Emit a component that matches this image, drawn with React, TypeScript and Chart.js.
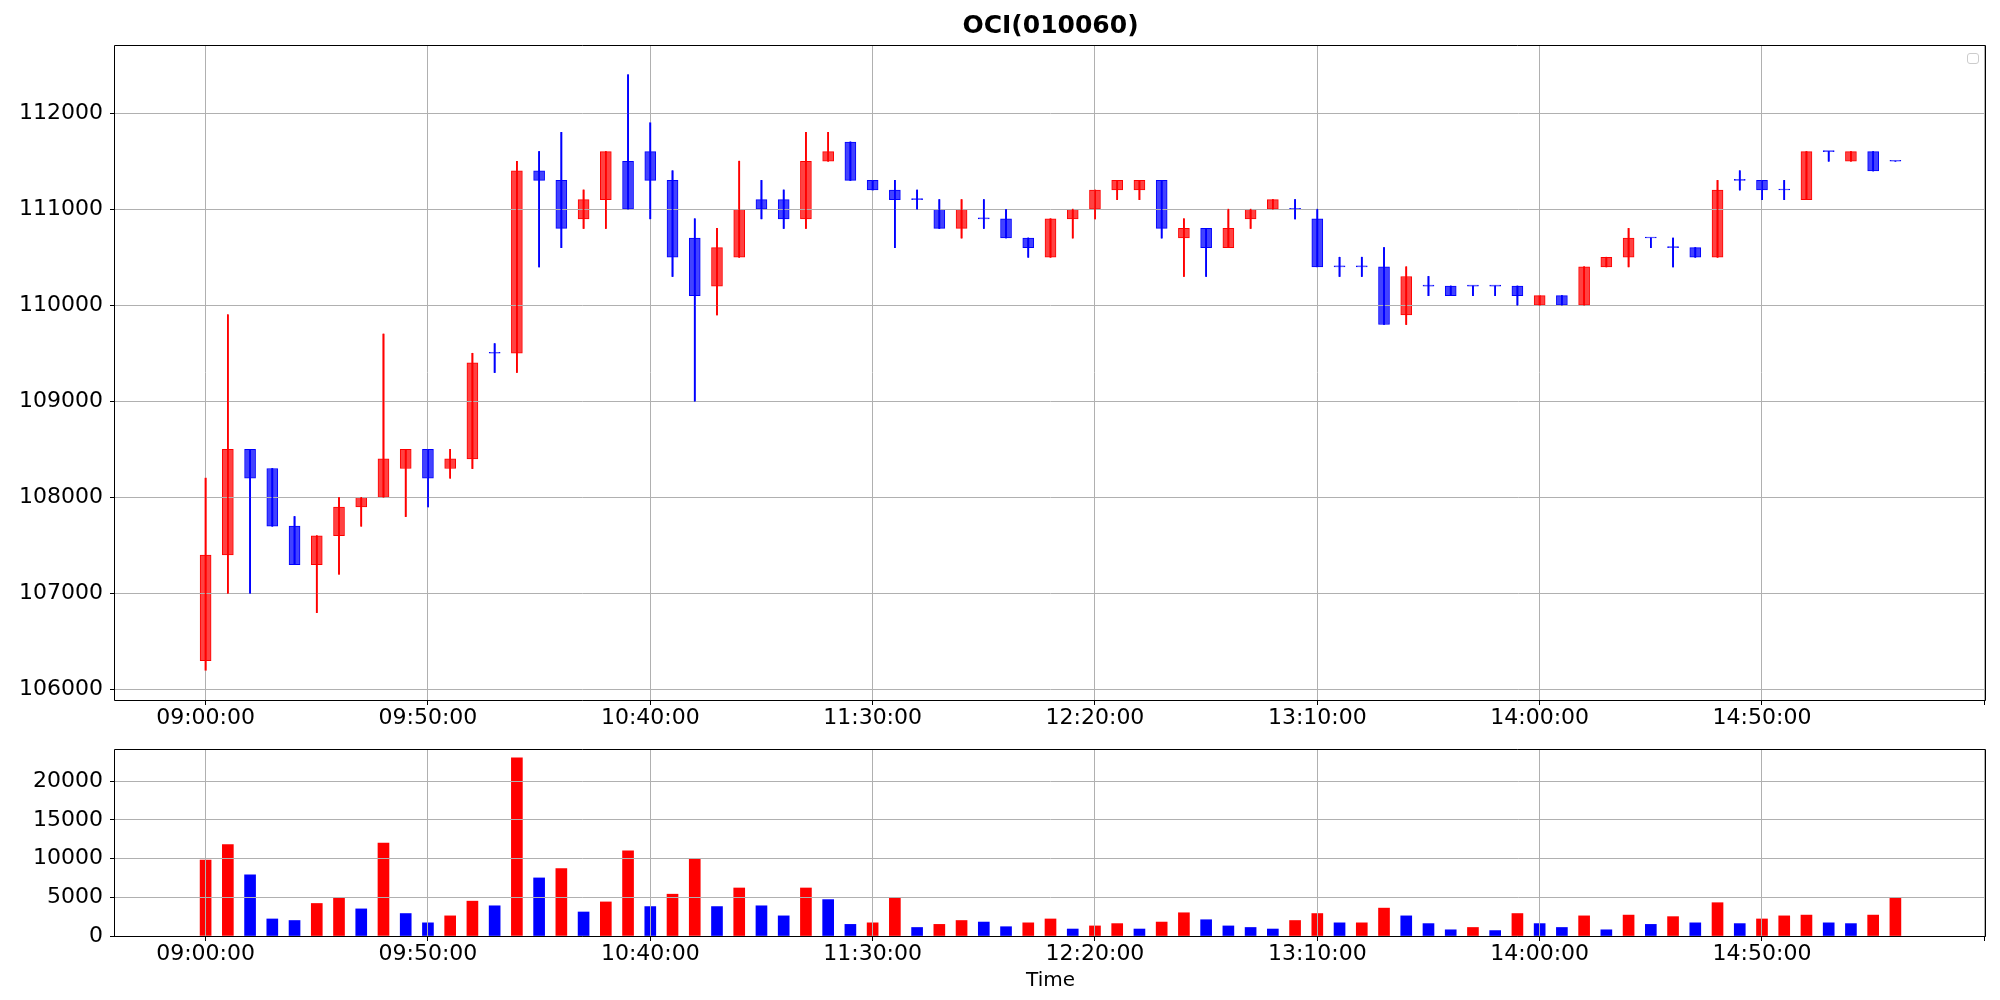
import React, { useEffect, useRef } from "react";
import { Chart, registerables } from "chart.js";
Chart.register(...registerables);

const title = "OCI(010060)";
const xAxisTitle = "Time";

const times = [
  "09:00:00", "09:05:00", "09:10:00", "09:15:00", "09:20:00", "09:25:00", "09:30:00", "09:35:00", "09:40:00", "09:45:00",
  "09:50:00", "09:55:00", "10:00:00", "10:05:00", "10:10:00", "10:15:00", "10:20:00", "10:25:00", "10:30:00", "10:35:00",
  "10:40:00", "10:45:00", "10:50:00", "10:55:00", "11:00:00", "11:05:00", "11:10:00", "11:15:00", "11:20:00", "11:25:00",
  "11:30:00", "11:35:00", "11:40:00", "11:45:00", "11:50:00", "11:55:00", "12:00:00", "12:05:00", "12:10:00", "12:15:00",
  "12:20:00", "12:25:00", "12:30:00", "12:35:00", "12:40:00", "12:45:00", "12:50:00", "12:55:00", "13:00:00", "13:05:00",
  "13:10:00", "13:15:00", "13:20:00", "13:25:00", "13:30:00", "13:35:00", "13:40:00", "13:45:00", "13:50:00", "13:55:00",
  "14:00:00", "14:05:00", "14:10:00", "14:15:00", "14:20:00", "14:25:00", "14:30:00", "14:35:00", "14:40:00", "14:45:00",
  "14:50:00", "14:55:00", "15:00:00", "15:05:00", "15:10:00", "15:15:00", "15:20:00",
];

const opens = [
  106300, 107400, 108500, 108300, 107700, 107300, 107600, 107900, 108000, 108300,
  108500, 108300, 108400, 109500, 109500, 111400, 111300, 110900, 111100, 111500,
  111600, 111300, 110700, 110200, 110500, 111100, 111100, 110900, 111500, 111700,
  111300, 111200, 111100, 111000, 110800, 110900, 110900, 110700, 110500, 110900,
  111000, 111200, 111200, 111300, 110700, 110800, 110600, 110900, 111000, 111000,
  110900, 110400, 110400, 110400, 109900, 110200, 110200, 110200, 110200, 110200,
  110000, 110100, 110000, 110400, 110500, 110700, 110600, 110600, 110500, 111300,
  111300, 111200, 111100, 111600, 111500, 111600, 111500,
];
const highs = [
  108200, 109900, 108500, 108300, 107800, 107600, 108000, 108000, 109700, 108500,
  108500, 108500, 109500, 109600, 111500, 111600, 111800, 111200, 111600, 112400,
  111900, 111400, 110900, 110800, 111500, 111300, 111200, 111800, 111800, 111700,
  111300, 111300, 111200, 111100, 111100, 111100, 111000, 110700, 110900, 111000,
  111200, 111300, 111300, 111300, 110900, 110800, 111000, 111000, 111100, 111100,
  111000, 110500, 110500, 110600, 110400, 110300, 110200, 110200, 110200, 110200,
  110100, 110100, 110400, 110500, 110800, 110700, 110700, 110600, 111300, 111400,
  111300, 111300, 111600, 111600, 111600, 111600, 111500,
];
const lows = [
  106200, 107000, 107000, 107700, 107300, 106800, 107200, 107700, 108000, 107800,
  107900, 108200, 108300, 109300, 109300, 110400, 110600, 110800, 110800, 111000,
  110900, 110300, 109000, 109900, 110500, 110900, 110800, 110800, 111500, 111300,
  111200, 110600, 111000, 110800, 110700, 110800, 110700, 110500, 110500, 110700,
  110900, 111100, 111100, 110700, 110300, 110300, 110600, 110800, 111000, 110900,
  110400, 110300, 110300, 109800, 109800, 110100, 110100, 110100, 110100, 110000,
  110000, 110000, 110000, 110400, 110400, 110600, 110400, 110500, 110500, 111200,
  111100, 111100, 111100, 111500, 111500, 111400, 111500,
];
const closes = [
  107400, 108500, 108200, 107700, 107300, 107600, 107900, 108000, 108400, 108500,
  108200, 108400, 109400, 109500, 111400, 111300, 110800, 111100, 111600, 111000,
  111300, 110500, 110100, 110600, 111000, 111000, 110900, 111500, 111600, 111300,
  111200, 111100, 111100, 110800, 111000, 110900, 110700, 110600, 110900, 111000,
  111200, 111300, 111300, 110800, 110800, 110600, 110800, 111000, 111100, 111000,
  110400, 110400, 110400, 109800, 110300, 110200, 110100, 110200, 110200, 110100,
  110100, 110000, 110400, 110500, 110700, 110700, 110600, 110500, 111200, 111300,
  111200, 111200, 111600, 111600, 111600, 111400, 111500,
];

const volumes = [
  9800, 11800, 7900, 2200, 2000, 4200, 4900, 3500, 12000, 2900,
  1700, 2600, 4500, 3900, 23000, 7500, 8700, 3100, 4400, 11000,
  3800, 5400, 10000, 3800, 6200, 3900, 2600, 6200, 4700, 1500,
  1700, 4900, 1100, 1500, 2000, 1800, 1200, 1700, 2200, 900,
  1300, 1600, 900, 1800, 3000, 2100, 1300, 1100, 900, 2000,
  2900, 1700, 1700, 3600, 2600, 1600, 800, 1100, 700, 2900,
  1600, 1100, 2600, 800, 2700, 1500, 2500, 1700, 4300, 1600,
  2200, 2600, 2700, 1700, 1600, 2700, 4900,
];
// R = rising (red), B = falling (blue)
const volumeDir = [
  "R", "R", "B", "B", "B", "R", "R", "B", "R", "B",
  "B", "R", "R", "B", "R", "B", "R", "B", "R", "R",
  "B", "R", "R", "B", "R", "B", "B", "R", "B", "B",
  "R", "R", "B", "R", "R", "B", "B", "R", "R", "B",
  "R", "R", "B", "R", "R", "B", "B", "B", "B", "R",
  "R", "B", "R", "R", "B", "B", "B", "R", "B", "R",
  "B", "B", "R", "B", "R", "B", "R", "B", "R", "B",
  "R", "R", "R", "B", "B", "R", "R",
];

const xTicks = [0, 10, 20, 30, 40, 50, 60, 70, 80];
const priceTicks = [106000, 107000, 108000, 109000, 110000, 111000, 112000];
const volumeTicks = [0, 5000, 10000, 15000, 20000];

const X_MIN = -4.075;
const X_MAX = 80.075;
const GRID = "#b0b0b0";
const FONT = "'DejaVu Sans', sans-serif";

const UP_FILL = "#ff4242";
const UP_EDGE = "#ff0000";
const DN_FILL = "#4242ff";
const DN_EDGE = "#0000ff";

const wickOnTop = {
  id: "wickOnTop",
  afterDraw(chart: any) {
    const meta = chart.getDatasetMeta(0);
    const { ctx, chartArea } = chart;
    ctx.save();
    ctx.beginPath();
    ctx.rect(chartArea.left, chartArea.top, chartArea.right - chartArea.left, chartArea.bottom - chartArea.top);
    ctx.clip();
    meta.controller.draw();
    ctx.restore();
  },
};

// the four spines of the axes frame
const frame = {
  id: "frame",
  afterDraw(chart: any) {
    const { ctx, chartArea } = chart;
    ctx.save();
    ctx.strokeStyle = "#000";
    ctx.lineWidth = 1;
    const l = Math.round(chartArea.left) - 0.5;
    const t = Math.round(chartArea.top) + 0.5;
    const r = Math.round(chartArea.right) - 0.5;
    const b = Math.round(chartArea.bottom) + 0.5;
    ctx.beginPath();
    ctx.rect(l, t, r - l, b - t);
    ctx.stroke();
    ctx.restore();
  },
};

function xScale(height: number, withTitle: boolean): any {
  return {
    type: "linear",
    position: "bottom",
    min: X_MIN,
    max: X_MAX,
    offset: false,
    grid: { color: GRID, lineWidth: 1, offset: false, tickLength: 5, tickColor: "#000", z: 1 },
    border: { display: false },
    ticks: {
      autoSkip: false,
      maxRotation: 0,
      minRotation: 0,
      padding: 0,
      color: "#000",
      font: { family: FONT, size: 22 },
      callback: (v: any) => (times[v] !== undefined ? times[v] : ""),
    },
    afterBuildTicks: (s: any) => {
      s.ticks = xTicks.map((v) => ({ value: v }));
    },
    title: withTitle
      ? { display: true, text: xAxisTitle, color: "#000", font: { family: FONT, size: 20 }, padding: { top: 0, bottom: 7 } }
      : { display: false },
    afterFit: (s: any) => {
      s.height = height;
      s.paddingLeft = 0;
      s.paddingRight = 0;
    },
  };
}

function yScale(min: number, max: number, tickValues: number[]): any {
  return {
    type: "linear",
    position: "left",
    min,
    max,
    grid: { color: GRID, lineWidth: 1, tickLength: 5, tickColor: "#000", z: 1 },
    border: { display: false },
    ticks: {
      padding: 7,
      autoSkip: false,
      color: "#000",
      font: { family: FONT, size: 22 },
      callback: (v: any) => String(v),
    },
    afterBuildTicks: (s: any) => {
      s.ticks = tickValues.map((v) => ({ value: v }));
    },
    afterFit: (s: any) => {
      s.width = 115;
      s.paddingTop = 0;
      s.paddingBottom = 0;
    },
  };
}

export default function App() {
  const priceRef = useRef<HTMLCanvasElement>(null);
  const volRef = useRef<HTMLCanvasElement>(null);

  useEffect(() => {
    Chart.defaults.font.family = FONT;
    Chart.defaults.color = "#000";
    const up = closes.map((c, i) => c > opens[i]);

    const price = new Chart(priceRef.current as HTMLCanvasElement, {
      type: "bar",
      data: {
        datasets: [
          {
            label: "wick",
            data: times.map((_, i) => ({ x: i, y: [lows[i], highs[i]] })) as any,
            backgroundColor: up.map((u) => (u ? UP_EDGE : DN_EDGE)),
            borderWidth: 0,
            barThickness: 1,
            grouped: false,
            order: 0,
          } as any,
          {
            label: "body",
            data: times.map((_, i) => ({ x: i, y: [opens[i], closes[i]] })) as any,
            backgroundColor: up.map((u) => (u ? UP_FILL : DN_FILL)),
            borderColor: up.map((u) => (u ? UP_EDGE : DN_EDGE)),
            borderWidth: 1,
            borderSkipped: false,
            barThickness: 11,
            minBarLength: 1,
            grouped: false,
            order: 1,
          } as any,
        ],
      },
      options: {
        responsive: false,
        animation: false,
        devicePixelRatio: 1,
        layout: { padding: { top: 0, right: 14, bottom: 0, left: 0 } },
        plugins: {
          legend: { display: false },
          tooltip: { enabled: false },
          title: {
            display: true,
            text: title,
            fullSize: false,
            color: "#000",
            font: { family: FONT, size: 25, weight: "bold", lineHeight: 1.2 },
            padding: { top: 11, bottom: 4 },
          },
        },
        scales: {
          x: xScale(45, false),
          y: yScale(105890, 112710, priceTicks),
        },
      } as any,
      plugins: [wickOnTop, frame],
    });

    const vol = new Chart(volRef.current as HTMLCanvasElement, {
      type: "bar",
      data: {
        datasets: [
          {
            label: "volume",
            data: volumes.map((v, i) => ({ x: i, y: v })) as any,
            backgroundColor: volumeDir.map((d) => (d === "R" ? "#ff0000" : "#0000ff")),
            borderWidth: 0,
            barThickness: 11,
            grouped: false,
          } as any,
        ],
      },
      options: {
        responsive: false,
        animation: false,
        devicePixelRatio: 1,
        layout: { padding: { top: 9, right: 14, bottom: 0, left: 0 } },
        plugins: { legend: { display: false }, tooltip: { enabled: false }, title: { display: false } },
        scales: {
          x: xScale(64, true),
          y: yScale(0, 24150, volumeTicks),
        },
      } as any,
      plugins: [frame],
    });

    return () => {
      price.destroy();
      vol.destroy();
    };
  }, []);

  return (
    <div style={{ position: "fixed", left: 0, top: 0, width: 2000, height: 1000, background: "#fff" }}>
      <canvas
        ref={priceRef}
        width={2000}
        height={745}
        style={{ position: "absolute", left: 0, top: 0, width: 2000, height: 745 }}
      />
      <canvas
        ref={volRef}
        width={2000}
        height={260}
        style={{ position: "absolute", left: 0, top: 740, width: 2000, height: 260 }}
      />
      <div
        style={{
          position: "absolute",
          left: 1967,
          top: 53,
          width: 12,
          height: 11,
          boxSizing: "border-box",
          border: "1px solid #cccccc",
          borderRadius: 3,
          background: "#fff",
        }}
      />
    </div>
  );
}
